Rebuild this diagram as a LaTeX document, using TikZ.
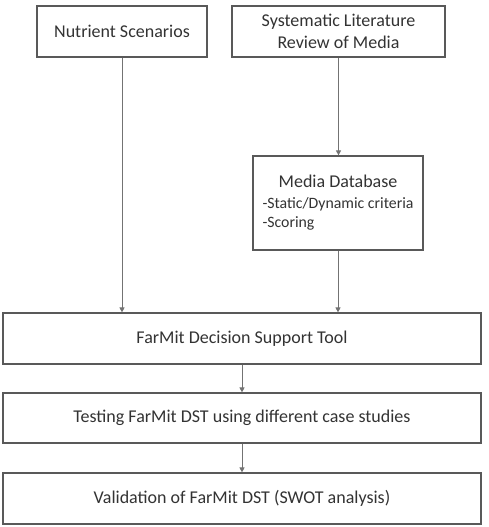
\documentclass[tikz,border=0pt]{standalone}
\usepackage{fontspec}
\setmainfont{Carlito}
\usepackage{tikz}
\usetikzlibrary{arrows.meta,positioning,calc}

\begin{document}
\begin{tikzpicture}[
    box/.style={draw=black!65, line width=1.2pt, fill=white, align=center, inner sep=2pt,
                font=\fontsize{18}{22}\selectfont, text=black!80},
    flow/.style={-{Triangle[length=5pt,width=5pt]}, draw=black!55, line width=0.9pt},
    x=1pt, y=-1pt
]
\useasboundingbox (0,0) rectangle (489,527);

% --- Top row ---
\node[box, minimum width=170pt, minimum height=51pt] (nut) at (122,31.5) {Nutrient Scenarios};
\node[box, minimum width=213pt, minimum height=51pt] (lit) at (338.5,31.5) {Systematic Literature\\Review of Media};

% --- Media database ---
\node[box, minimum width=170pt, minimum height=94pt] (media) at (338,203) {%
  \begin{tabular}{@{}l@{}}
  \multicolumn{1}{@{}c@{}}{Media Database}\\[-1pt]
  {\fontsize{15.8}{18}\selectfont -Static/Dynamic criteria}\\[-3pt]
  {\fontsize{15.8}{18}\selectfont -Scoring}
  \end{tabular}};

% --- Main chain ---
\node[box, minimum width=478pt, minimum height=51pt] (dst) at (242,338.5) {FarMit Decision Support Tool};
\node[box, minimum width=478pt, minimum height=50pt] (test) at (242,418) {Testing FarMit DST using different case studies};
\node[box, minimum width=478pt, minimum height=51pt] (valid) at (242,498.5) {Validation of FarMit DST (SWOT analysis)};

% --- Arrows ---
\draw[flow] (nut) -- (nut |- dst.north);
\draw[flow] (lit) -- (lit |- media.north);
\draw[flow] (media) -- (media |- dst.north);
\draw[flow] (dst) -- (test);
\draw[flow] (test) -- (valid);

\end{tikzpicture}
\end{document}
